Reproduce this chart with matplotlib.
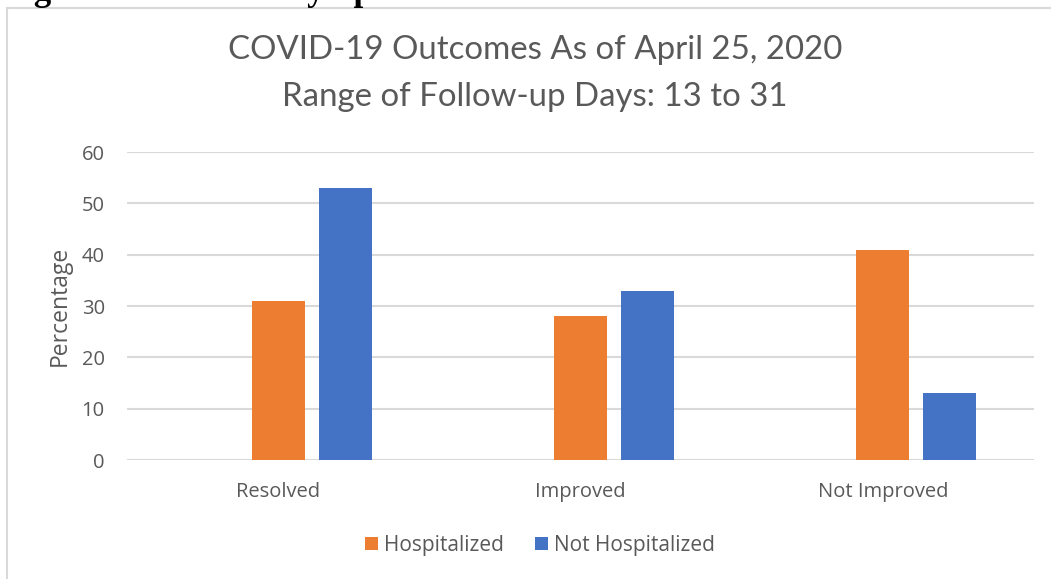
import matplotlib.pyplot as plt
import numpy as np
from matplotlib.patches import Rectangle

categories = ["Resolved", "Improved", "Not Improved"]
hospitalized = [31, 28, 41]
not_hospitalized = [53, 33, 13]
yticks = [0, 10, 20, 30, 40, 50, 60]

ORANGE = "#ED7D31"
BLUE = "#4472C4"
GRAY = "#595959"
GRID = "#D9D9D9"

plt.rcParams['font.family'] = ['Open Sans', 'DejaVu Sans']

W, H = 1051, 579
fig = plt.figure(figsize=(W / 100, H / 100), dpi=100)

# chart frame (cropped by the image edge on right and bottom)
fig.patches.append(Rectangle((7 / W, -0.1), 1.2, 1 - 8 / H + 0.1,
                             transform=fig.transFigure, fill=False,
                             edgecolor=GRID, linewidth=1.5))

# caption of the page, mostly cut off at the top
fig.text(3 / W, 1 - 0.5 / H, "Figure 1. Covid-19 Symptoms", fontsize=25,
         fontweight="bold", family="Liberation Serif", va="baseline",
         ha="left", color="black")

ax = fig.add_axes([127 / W, 1 - 460 / H, (1034 - 127) / W, (460 - 152) / H])

x = np.arange(len(categories))
w = 0.175
ax.bar(x, hospitalized, w, color=ORANGE, label="Hospitalized", zorder=3)
ax.bar(x + 0.222, not_hospitalized, w, color=BLUE, label="Not Hospitalized",
       zorder=3)

ax.set_xlim(-0.5, 2.5)
ax.set_ylim(0, 60)
ax.set_yticks(yticks)
ax.set_xticks(x)
ax.set_xticklabels(categories)
ax.tick_params(length=0, colors=GRAY, labelsize=14.5)
ax.tick_params(axis="y", pad=16)
ax.tick_params(axis="x", pad=16)
ax.grid(axis="y", color=GRID, linewidth=1.5, zorder=0)
for s in ax.spines.values():
    s.set_visible(False)

ax.set_ylabel("Percentage", fontsize=16.5, color=GRAY, labelpad=7)

title_font = dict(fontsize=23.8, color=GRAY, family=["Lato", "DejaVu Sans"],
                  ha="center", va="center")
fig.text(535 / W, 1 - 50 / H, "COVID-19 Outcomes As of April 25, 2020",
         **title_font)
fig.text(535 / W, 1 - 97 / H, "Range of Follow-up Days: 13 to 31",
         **title_font)

fig.legend(loc="center", bbox_to_anchor=(540 / W, 1 - 545 / H), ncol=2,
           frameon=False, fontsize=15, labelcolor=GRAY, handlelength=0.6,
           handleheight=0.6, handletextpad=0.3, columnspacing=1.5)

fig.savefig("out.png", dpi=100, facecolor="white")
